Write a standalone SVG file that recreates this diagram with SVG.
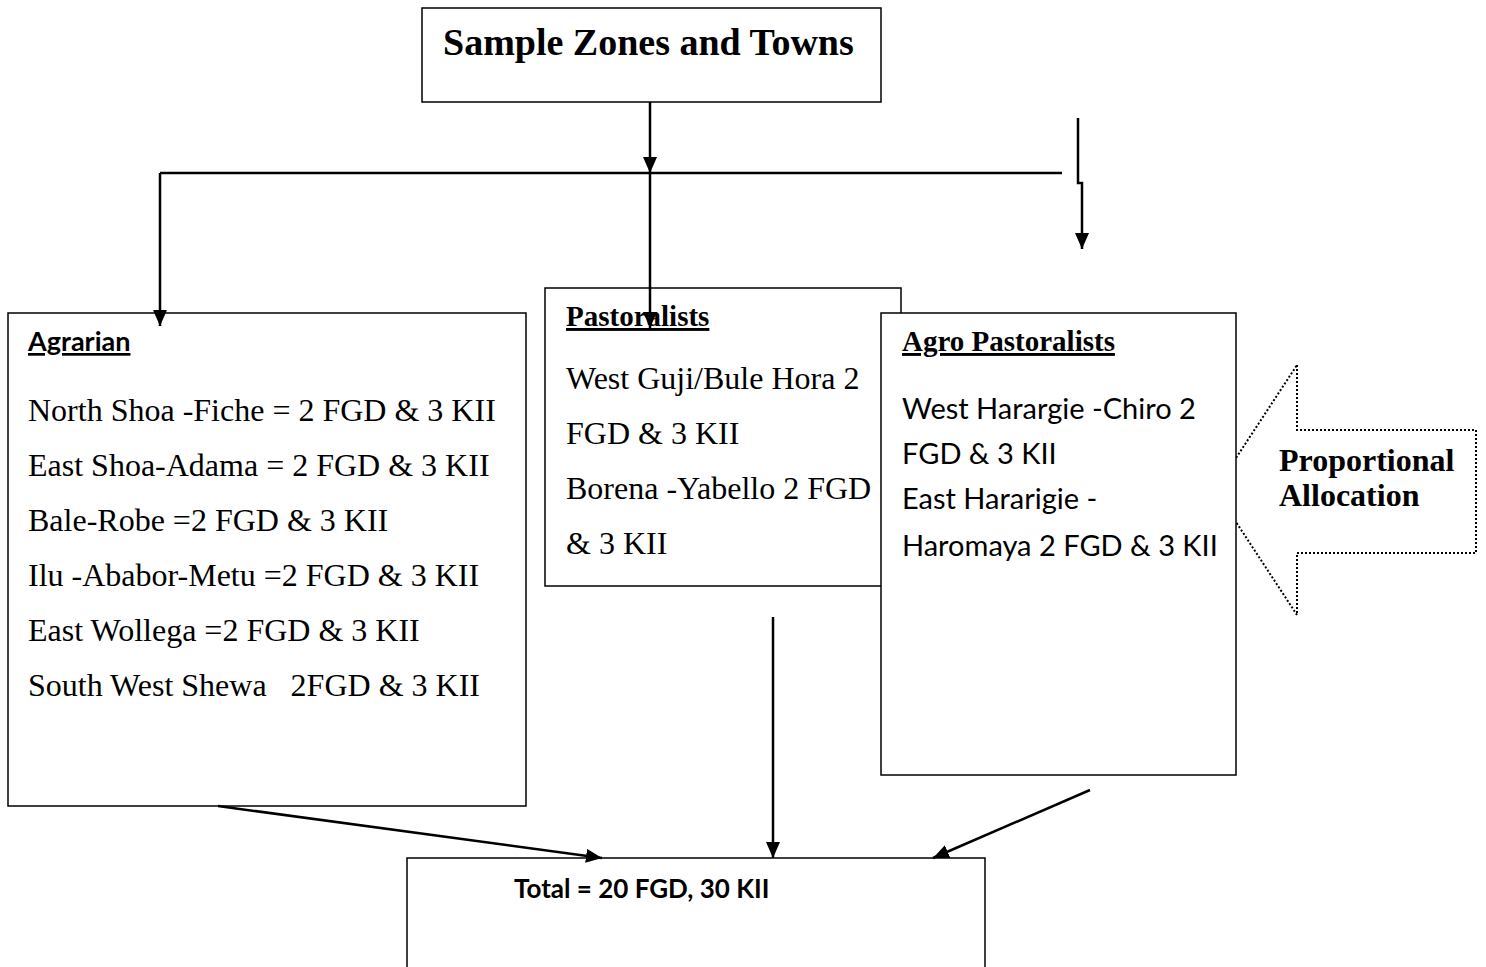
<svg xmlns="http://www.w3.org/2000/svg" width="1486" height="967" viewBox="0 0 1486 967">
<defs>
<marker id="ah" viewBox="0 0 16 14" refX="16" refY="7" markerWidth="16" markerHeight="14" markerUnits="userSpaceOnUse" orient="auto"><path d="M0,0 L16,7 L0,14 z" fill="#000"/></marker>
<style>
.box{fill:#fff;stroke:#000;stroke-width:1.5}
.ln{fill:none;stroke:#000;stroke-width:2.5}
.ar{fill:none;stroke:#000;stroke-width:2.5;marker-end:url(#ah)}
.tr{font-family:"Liberation Serif",serif;fill:#000}
.cb{font-family:Lato,"Liberation Sans",sans-serif;fill:#000}
.b{font-weight:bold}
.u{text-decoration:underline}
</style>
</defs>
<g id="proportional-allocation">
<polygon points="1297,365 1297,430 1476,430 1476,553 1297,553 1297,615 1215,490" fill="#fff" stroke="#000" stroke-width="2" stroke-dasharray="2,2"/>
</g>
<g id="sample-zones">
<rect class="box" x="422" y="8" width="459" height="94"/>
<text class="tr b" x="443" y="55" font-size="38">Sample Zones and Towns</text>
</g>
<g id="agrarian">
<rect class="box" x="8" y="313" width="518" height="493"/>
<text class="cb b u" x="28" y="351" font-size="27">Agrarian</text>
<g class="tr" font-size="32">
<text x="28" y="421">North Shoa -Fiche = 2 FGD &amp; 3 KII</text>
<text x="28" y="476">East Shoa-Adama = 2 FGD &amp; 3 KII</text>
<text x="28" y="531">Bale-Robe =2 FGD &amp; 3 KII</text>
<text x="28" y="586">Ilu -Ababor-Metu =2 FGD &amp; 3 KII</text>
<text x="28" y="641">East Wollega =2 FGD &amp; 3 KII</text>
<text x="28" y="696" xml:space="preserve">South West Shewa   2FGD &amp; 3 KII</text>
</g>
</g>
<g id="pastoralists">
<rect class="box" x="545" y="288" width="356" height="298"/>
<text class="tr b u" x="566" y="326" font-size="29">Pastoralists</text>
<g class="tr" font-size="32">
<text x="566" y="389">West Guji/Bule Hora 2</text>
<text x="566" y="444">FGD &amp; 3 KII</text>
<text x="566" y="499">Borena -Yabello 2 FGD</text>
<text x="566" y="554">&amp; 3 KII</text>
</g>
</g>
<g id="agro-pastoralists">
<rect class="box" x="881" y="313" width="355" height="462"/>
<text class="tr b u" x="902" y="351" font-size="29">Agro Pastoralists</text>
<g class="cb" font-size="29">
<text x="902" y="419">West Harargie -Chiro 2</text>
<text x="902" y="464">FGD &amp; 3 KII</text>
<text x="902" y="509">East Hararigie -</text>
<text x="902" y="556">Haromaya 2 FGD &amp; 3 KII</text>
</g>
</g>
<g id="proportional-label" class="tr b" font-size="32">
<text x="1279" y="471">Proportional</text>
<text x="1279" y="506">Allocation</text>
</g>
<g id="total">
<rect class="box" x="407" y="858" width="578" height="120"/>
<text class="cb b" x="514" y="898" font-size="26">Total = 20 FGD, 30 KII</text>
</g>
<g id="connectors">
<line class="ar" x1="650" y1="102" x2="650" y2="173"/>
<polyline class="ln" points="1062,173 160,173"/>
<line class="ar" x1="160" y1="173" x2="160" y2="326"/>
<line class="ar" x1="650" y1="173" x2="650" y2="328"/>
<polyline class="ar" points="1078,118 1078,183 1082,183 1082,249"/>
<line class="ar" x1="218" y1="806" x2="602" y2="858"/>
<line class="ar" x1="773" y1="617" x2="773" y2="858"/>
<line class="ar" x1="1090" y1="790" x2="933" y2="858"/>
</g>
</svg>
